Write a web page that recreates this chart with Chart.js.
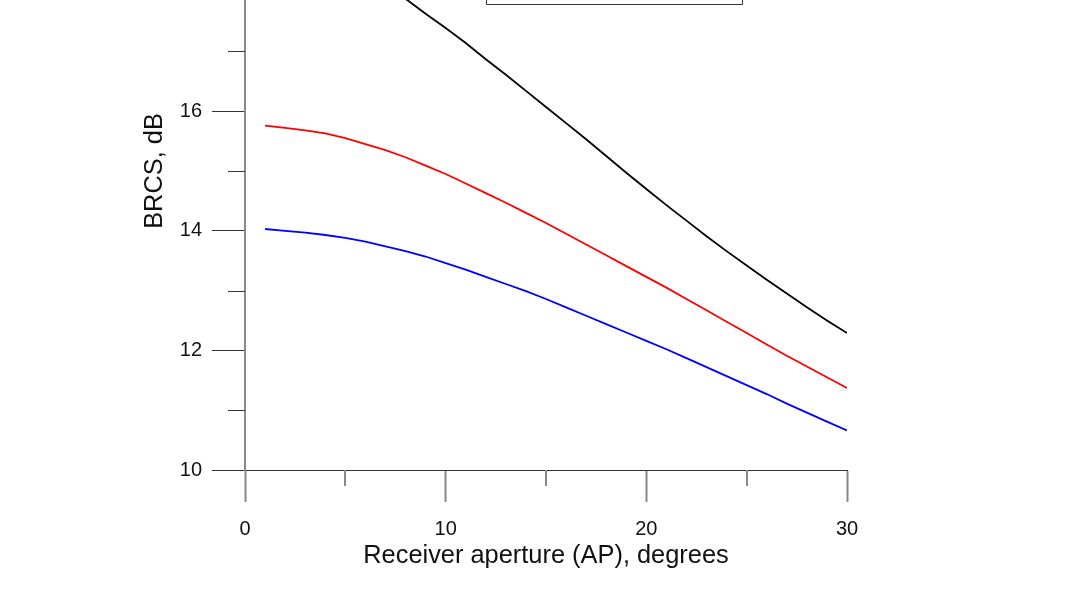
<!DOCTYPE html>
<html>
<head>
<meta charset="utf-8">
<script src="https://cdn.jsdelivr.net/npm/chart.js@4/dist/chart.umd.min.js"></script>
<style>
  html, body { margin: 0; padding: 0; background: #fff; overflow: hidden; width: 1087px; height: 599px; }
  #wrap { position: absolute; left: 0; top: -150px; width: 1087px; height: 749px; }
</style>
</head>
<body>
<div id="wrap"><canvas id="c" width="1087" height="749"></canvas></div>
<script>
// ---- data ----
const apertureDeg = [1,2,3,4,5,6,7,8,9,10,11,12,13,14,15,16,17,18,19,20,21,22,23,24,25,26,27,28,29,30];
const brcsBlack = [18.84,18.80,18.73,18.62,18.48,18.30,18.10,17.88,17.63,17.39,17.14,16.87,16.61,16.34,16.07,15.80,15.53,15.25,14.97,14.70,14.43,14.17,13.91,13.66,13.42,13.18,12.95,12.72,12.50,12.29];
const brcsRed   = [15.76,15.72,15.68,15.63,15.55,15.45,15.35,15.23,15.09,14.95,14.79,14.63,14.47,14.30,14.13,13.95,13.77,13.59,13.41,13.23,13.05,12.86,12.67,12.48,12.29,12.10,11.91,11.73,11.55,11.37];
const brcsBlue  = [14.03,14.00,13.97,13.93,13.88,13.82,13.74,13.66,13.57,13.46,13.35,13.23,13.11,12.99,12.86,12.72,12.58,12.44,12.30,12.16,12.02,11.87,11.72,11.57,11.42,11.27,11.11,10.96,10.81,10.66];
const xMajorTicks = [0,10,20,30];
const xMinorTicks = [5,15,25];
const yMajorTicks = [10,12,14,16];
const yMinorTicks = [11,13,15,17];
const xTitle = 'Receiver aperture (AP), degrees';
const yTitle = 'BRCS, dB';

const toPts = arr => arr.map((v, i) => ({ x: apertureDeg[i], y: v }));
const FONT = "'Liberation Sans', Arial, Helvetica, sans-serif";

const minorTicksPlugin = {
  id: 'minorTicks',
  afterDraw(chart) {
    const ctx = chart.ctx;
    const xs = chart.scales.x, ys = chart.scales.y;
    const ca = chart.chartArea;
    ctx.save();
    // y minor ticks (horizontal)
    ctx.strokeStyle = '#333';
    ctx.lineWidth = 1;
    yMinorTicks.forEach(v => {
      const py = Math.round(ys.getPixelForValue(v)) + 0.5;
      ctx.beginPath();
      ctx.moveTo(ca.left - 17, py);
      ctx.lineTo(ca.left, py);
      ctx.stroke();
    });
    // x minor ticks (vertical)
    ctx.strokeStyle = '#888';
    ctx.lineWidth = 2;
    xMinorTicks.forEach(v => {
      const px = Math.round(xs.getPixelForValue(v));
      ctx.beginPath();
      ctx.moveTo(px, ca.bottom);
      ctx.lineTo(px, ca.bottom + 16);
      ctx.stroke();
    });
    // legend frame (its content lies above the visible region)
    const lx1 = xs.getPixelForValue(12), lx2 = xs.getPixelForValue(24.75);
    const ly2 = ys.getPixelForValue(17.79), ly1 = ys.getPixelForValue(19.4);
    ctx.fillStyle = '#fff';
    ctx.fillRect(lx1, ly1, lx2 - lx1, ly2 - ly1);
    ctx.strokeStyle = '#333';
    ctx.lineWidth = 1;
    ctx.beginPath();
    ctx.moveTo(Math.round(lx1) + 0.5, ly1);
    ctx.lineTo(Math.round(lx1) + 0.5, Math.round(ly2) + 0.5);
    ctx.lineTo(Math.round(lx2) + 0.5, Math.round(ly2) + 0.5);
    ctx.lineTo(Math.round(lx2) + 0.5, ly1);
    ctx.stroke();
    ctx.restore();
  }
};

new Chart(document.getElementById('c'), {
  type: 'line',
  data: {
    datasets: [
      { label: 'black', data: toPts(brcsBlack), borderColor: '#000000', borderWidth: 1.8, pointRadius: 0, fill: false, tension: 0 },
      { label: 'red',   data: toPts(brcsRed),   borderColor: '#ff0000', borderWidth: 1.8, pointRadius: 0, fill: false, tension: 0 },
      { label: 'blue',  data: toPts(brcsBlue),  borderColor: '#0000ff', borderWidth: 1.8, pointRadius: 0, fill: false, tension: 0 }
    ]
  },
  options: {
    responsive: false,
    animation: false,
    devicePixelRatio: 1,
    layout: { padding: { left: 0, right: 240, top: 20, bottom: 0 } },
    plugins: { legend: { display: false }, tooltip: { enabled: false } },
    scales: {
      x: {
        type: 'linear', position: 'bottom', min: 0, max: 30,
        afterBuildTicks: s => { s.ticks = xMajorTicks.map(v => ({ value: v })); },
        afterFit: s => { s.height = 129; },
        ticks: { color: '#111', font: { family: FONT, size: 20 }, padding: 15, maxRotation: 0, autoSkip: false },
        grid: { drawOnChartArea: false, drawTicks: true, tickLength: 32, tickColor: '#888', tickWidth: 2 },
        border: { display: true, color: '#333', width: 1 },
        title: { display: true, text: xTitle, color: '#111', font: { family: FONT, size: 25.4 }, padding: { top: 0, bottom: 28 } }
      },
      y: {
        type: 'linear', position: 'left', min: 10, max: 20,
        afterBuildTicks: s => { s.ticks = yMajorTicks.map(v => ({ value: v })); },
        afterFit: s => { s.width = 245; },
        ticks: { color: '#111', font: { family: FONT, size: 20 }, padding: 10, autoSkip: false },
        grid: { drawOnChartArea: false, drawTicks: true, tickLength: 33, tickColor: '#333', tickWidth: 1 },
        border: { display: true, color: '#888', width: 2 },
        title: { display: true, text: yTitle, color: '#111', font: { family: FONT, size: 25.4 }, padding: { top: 140, bottom: 0 } }
      }
    }
  },
  plugins: [minorTicksPlugin]
});
</script>
</body>
</html>
